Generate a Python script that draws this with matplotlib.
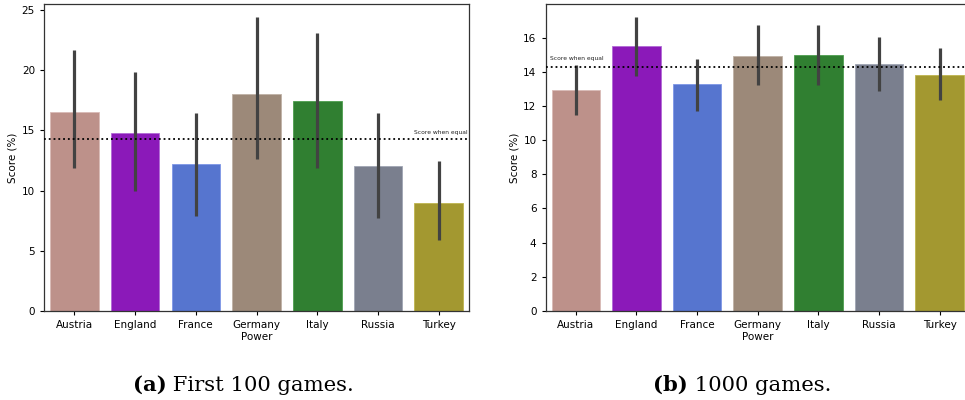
import matplotlib
matplotlib.use("Agg")
import matplotlib.pyplot as plt
import numpy as np

powers = ["Austria", "England", "France", "Germany", "Italy", "Russia", "Turkey"]
colors = ["#BD918A", "#8B19B9", "#5675CF", "#9C8979", "#307F31", "#7A7F8E", "#A39830"]
edge_colors = ["#D9BBB6", "#B26AD6", "#7E97E6", "#BFB2A6", "#4E9E4F", "#A0A5B4", "#BFB54F"]

# First 100 games
score_100 = [16.5, 14.77, 12.19, 18.06, 17.43, 12.03, 8.95]
ci_low_100 = [11.9, 9.97, 7.92, 12.61, 11.91, 7.76, 5.93]
ci_high_100 = [21.7, 19.84, 16.46, 24.41, 23.13, 16.46, 12.44]

# 1000 games
score_1000 = [12.95, 15.55, 13.28, 14.95, 14.99, 14.45, 13.85]
ci_low_1000 = [11.47, 13.79, 11.7, 13.23, 13.26, 12.91, 12.38]
ci_high_1000 = [14.42, 17.22, 14.79, 16.75, 16.75, 16.08, 15.43]

equal_score = 100 / 7
y_ticks_100 = [0, 5, 10, 15, 20, 25]
y_ticks_1000 = [0, 2, 4, 6, 8, 10, 12, 14, 16]
captions = [("(a)", " First 100 games."), ("(b)", " 1000 games.")]

W, H = 965, 400
fig = plt.figure(figsize=(W / 100, H / 100), dpi=100)

ax1 = fig.add_axes([44 / W, (H - 311) / H, 425 / W, 307 / H])
ax2 = fig.add_axes([545.5 / W, (H - 310.7) / H, 424.5 / W, 306.7 / H])

def draw(ax, vals, lo, hi, ylim, yticks):
    x = np.arange(len(powers))
    ax.bar(x, vals, width=0.8, color=colors, edgecolor=edge_colors, linewidth=0.6, zorder=2)
    for xi, l, h in zip(x, lo, hi):
        ax.plot([xi, xi], [l, h], color="#424242", lw=2.3, solid_capstyle="butt", zorder=3)
    ax.axhline(equal_score, color="black", ls=":", lw=1.3, zorder=4)
    ax.set_xlim(-0.5, len(powers) - 0.5)
    ax.set_ylim(*ylim)
    ax.set_xticks(x)
    ax.set_xticklabels(powers)
    ax.set_yticks(yticks)
    ax.tick_params(labelsize=7.5, length=3, width=0.8)
    ax.set_xlabel("Power", fontsize=7.5, labelpad=1.5)
    ax.set_ylabel("Score (%)", fontsize=7.5, labelpad=3)
    for s in ax.spines.values():
        s.set_color("#333333")
        s.set_linewidth(0.9)

draw(ax1, score_100, ci_low_100, ci_high_100, (0, 25.5), y_ticks_100)
draw(ax2, score_1000, ci_low_1000, ci_high_1000, (0, 18.0), y_ticks_1000)

ax1.text(6.48, 14.65, "Score when equal", fontsize=4.3, ha="right", va="bottom", color="#222222")
ax2.text(-0.42, 14.65, "Score when equal", fontsize=4.3, ha="left", va="bottom", color="#222222")

# captions
cap_font = "DejaVu Serif"
cap_size = 15.2
for (lab, rest), xc in zip(captions, [241, 740]):
    t = fig.text(0, 0, lab + rest, fontsize=cap_size, family=cap_font)
    fig.canvas.draw()
    r = fig.canvas.get_renderer()
    wtot = t.get_window_extent(r).width
    t.remove()
    tb = fig.text((xc - wtot / 2) / W, (H - 391) / H, lab, fontsize=cap_size,
                  family=cap_font, weight="bold", va="baseline")
    wb = tb.get_window_extent(r).width
    fig.text((xc - wtot / 2 + wb) / W, (H - 391) / H, rest, fontsize=cap_size,
             family=cap_font, va="baseline")

fig.savefig("out.png", dpi=100)
